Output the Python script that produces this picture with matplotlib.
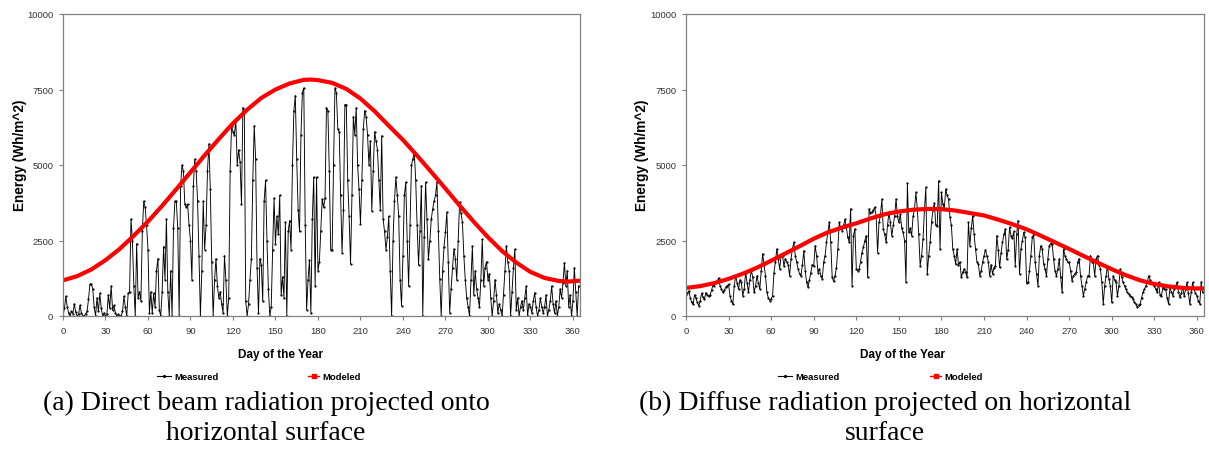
import numpy as np
import matplotlib
matplotlib.use("Agg")
import matplotlib.pyplot as plt
from matplotlib.lines import Line2D

# Datos (energia diaria, Wh/m^2)
days = np.arange(365)

direct_measured = [
    0, 250, 650, 300, 100, 0, 150, 80, 400, 120,
    0, 50, 350, 100, 0, 0, 80, 150, 550, 1050,
    1050, 900, 300, 0, 600, 150, 750, 250, 0, 100,
    0, 50, 700, 250, 1000, 200, 350, 100, 0, 50,
    0, 0, 150, 650, 300, 0, 750, 800, 3200, 2500,
    1000, 0, 2400, 600, 800, 500, 2800, 3800, 3600, 3000,
    2200, 100, 800, 100, 750, 300, 1500, 1900, 200, 0,
    800, 2300, 1200, 3200, 800, 0, 1500, 0, 2900, 3800,
    3800, 2900, 0, 4300, 5000, 4800, 3700, 3600, 3700, 3000,
    2500, 1200, 4300, 5200, 4800, 3800, 2000, 0, 1500, 3800,
    2200, 3000, 4800, 5700, 4200, 1800, 0, 1200, 1900, 1000,
    600, 800, 400, 100, 2000, 1200, 0, 600, 4800, 6300,
    6100, 6000, 6500, 5000, 5500, 5100, 3700, 6900, 6800, 500,
    0, 400, 1200, 1900, 4500, 6300, 5200, 1600, 100, 1900,
    1700, 500, 3800, 4500, 2500, 900, 0, 300, 2200, 3900,
    2400, 3300, 2700, 4000, 700, 1300, 600, 3100, 0, 2800,
    3160, 2200, 5000, 6800, 7300, 5200, 3500, 2800, 6000, 7400,
    7550, 3000, 200, 1200, 1850, 100, 3200, 4600, 1000, 4600,
    1500, 1800, 2800, 3870, 3600, 3900, 6900, 6800, 4800, 2200,
    2200, 5000, 7550, 7400, 6200, 6100, 4000, 2100, 3500, 7000,
    7000, 4500, 3300, 1720, 4000, 6600, 6000, 6900, 5000, 4200,
    3050, 4500, 6200, 6800, 6600, 6000, 5000, 5800, 3490, 4800,
    6100, 5800, 5500, 4500, 3500, 5970, 3200, 2800, 2200, 2600,
    3300, 1500, 0, 2500, 3800, 4600, 4000, 3300, 1200, 340,
    2000, 4000, 4430, 2500, 1000, 3000, 4990, 5200, 5430, 4500,
    3000, 1700, 2800, 4320, 0, 2600, 4430, 3200, 1880, 2500,
    3200, 3550, 3800, 4000, 4430, 2800, 1210, 0, 1500, 2300,
    2780, 3440, 1800, 110, 900, 1600, 2220, 1900, 1200, 2500,
    3770, 3400, 3100, 2000, 1200, 600, 300, 0, 1200, 2320,
    700, 1500, 900, 600, 300, 1200, 2540, 1000, 1600, 1800,
    1200, 1400, 600, 0, 500, 1200, 700, 100, 400, 200,
    0, 700, 1500, 2320, 1800, 1500, 0, 800, 1600, 2210,
    200, 600, 0, 300, 500, 200, 600, 990, 0, 400,
    300, 100, 500, 770, 300, 0, 200, 600, 300, 100,
    300, 700, 0, 200, 500, 990, 400, 100, 500, 0,
    300, 900, 600, 1100, 1770, 1000, 1500, 300, 700, 0,
    500, 1600, 800, 0, 1000,
]

diffuse_measured = [
    680, 750, 830, 600, 450, 390, 700, 600, 450, 340,
    500, 750, 620, 550, 770, 700, 650, 700, 850, 1040,
    1000, 1120, 1150, 1260, 1000, 880, 780, 850, 950, 1000,
    1050, 670, 500, 390, 1000, 1330, 1100, 890, 1200, 1110,
    670, 900, 1440, 1100, 780, 1200, 1500, 1300, 780, 1000,
    1330, 1100, 890, 1500, 2060, 1700, 1330, 780, 600, 510,
    560, 670, 1440, 1800, 2220, 1900, 1560, 2000, 2000, 1650,
    1900, 1780, 1700, 1330, 1900, 2220, 2440, 2000, 1780, 1560,
    1400, 1330, 1700, 2160, 1500, 1110, 950, 1200, 1440, 1700,
    1650, 2330, 2000, 1440, 1560, 1330, 1230, 1780, 2000, 2440,
    2800, 3100, 2440, 1280, 1150, 1330, 1600, 2220, 3100, 2900,
    2830, 3000, 3200, 2940, 2600, 2440, 3550, 1000, 2660, 2880,
    1560, 1500, 1560, 1800, 2100, 2270, 2500, 2660, 1280, 3550,
    3400, 3440, 3500, 3600, 3300, 2100, 3100, 3320, 3870, 2880,
    2700, 2440, 3000, 3440, 3100, 2660, 3000, 3320, 3870, 3300,
    3100, 3370, 2900, 2770, 2500, 1120, 4400, 2770, 2900, 2660,
    3300, 3540, 4090, 3540, 2700, 1660, 2000, 2550, 3500, 4260,
    1390, 2000, 2440, 3100, 3500, 3740, 3000, 2990, 4480, 2220,
    4090, 3700, 3540, 4200, 4000, 3870, 3270, 3000, 2220, 2000,
    1720, 2220, 1700, 1780, 1280, 1450, 1560, 1450, 1280, 3100,
    2330, 2900, 3320, 2700, 2220, 1800, 1720, 1330, 1500, 1780,
    2000, 2200, 2000, 1800, 1330, 1700, 1390, 1600, 1660, 2660,
    2200, 1610, 2100, 2440, 2700, 2880, 1880, 2200, 2940, 2660,
    2570, 2800, 1660, 2700, 3160, 1390, 2220, 2500, 2770, 2600,
    1080, 1110, 1500, 2000, 2600, 2710, 1780, 1400, 1000, 2000,
    2330, 2220, 1720, 1550, 1330, 1900, 2330, 2400, 2380, 1890,
    1500, 1330, 1560, 1890, 1300, 780, 2220, 2000, 1890, 1780,
    1780, 1500, 1170, 1330, 1400, 1450, 1780, 1900, 1330, 1000,
    670, 900, 1110, 1330, 1330, 2000, 1800, 1780, 1330, 1900,
    2000, 1700, 1560, 1120, 400, 1000, 1330, 1660, 1220, 1000,
    450, 1330, 1200, 1110, 670, 1000, 1560, 1300, 1110, 1000,
    890, 780, 720, 670, 620, 560, 450, 400, 290, 350,
    400, 600, 780, 890, 1000, 1110, 1330, 1200, 1110, 1050,
    1000, 890, 780, 1110, 700, 670, 950, 900, 890, 600,
    400, 950, 800, 670, 890, 1000, 1110, 800, 620, 750,
    950, 670, 880, 1110, 750, 400, 800, 1110, 890, 750,
    670, 500, 400, 1110, 780,
]

model_days = [0, 10, 20, 30, 40, 50, 60, 70, 80, 90, 100, 110, 120, 130, 140,
              150, 160, 170, 175, 180, 190, 200, 210, 220, 230, 240, 250, 260,
              270, 280, 290, 300, 310, 320, 330, 340, 350, 357, 365]
direct_modeled = [1180, 1320, 1540, 1850, 2220, 2660, 3130, 3650, 4200, 4760,
                  5320, 5860, 6380, 6830, 7220, 7500, 7700, 7820, 7830, 7810,
                  7720, 7520, 7200, 6780, 6300, 5830, 5310, 4770, 4220, 3660,
                  3120, 2610, 2150, 1770, 1460, 1260, 1160, 1140, 1170]
diffuse_modeled = [930, 990, 1090, 1230, 1400, 1600, 1830, 2070, 2310, 2560,
                   2770, 2930, 3070, 3230, 3370, 3460, 3520, 3545, 3545, 3540,
                   3490, 3410, 3330, 3190, 3040, 2870, 2660, 2440, 2220, 1990,
                   1770, 1550, 1350, 1180, 1060, 980, 930, 915, 910]

x_ticks = [0, 30, 60, 90, 120, 150, 180, 210, 240, 270, 300, 330, 360]
y_ticks = [0, 2500, 5000, 7500, 10000]

captions = ["(a) Direct beam radiation projected onto\nhorizontal surface",
            "(b) Diffuse radiation projected on horizontal\nsurface"]

plt.rcParams["font.family"] = ["Liberation Sans", "DejaVu Sans"]

W, H = 1209, 452
fig = plt.figure(figsize=(W / 100, H / 100), dpi=100)

paneles = [
    (direct_measured, direct_modeled, 63, 580, 20, 280, 162, 313, 266),
    (diffuse_measured, diffuse_modeled, 686, 1204, 642, 902, 783, 935, 885),
]

for i, (meas, mod, x0, x1, ylab_x, xlab_x, leg1, leg2, cap_x) in enumerate(paneles):
    ax = fig.add_axes([x0 / W, 1 - 317 / H, (x1 - x0) / W, (317 - 15) / H])
    ax.plot(days, meas, color="black", lw=0.65, marker=".", ms=1.2)
    ax.plot(model_days, mod, color="#ff0000", lw=3.0, solid_joinstyle="round")
    ax.set_xlim(0, 365)
    ax.set_ylim(0, 10000)
    ax.set_xticks(x_ticks)
    ax.set_yticks(y_ticks)
    ax.tick_params(direction="out", length=3, width=0.8, color="#808080",
                   labelsize=6.8, labelcolor="#333333", pad=4)
    for s in ax.spines.values():
        s.set_color("#808080")
        s.set_linewidth(0.9)

    fig.text(ylab_x / W, 1 - 155 / H, "Energy (Wh/m^2)", rotation=90,
             ha="center", va="center", fontsize=9.8, fontweight="bold")
    fig.text(xlab_x / W, 1 - 355 / H, "Day of the Year",
             ha="center", va="center", fontsize=8.5, fontweight="bold")

    # leyenda manual
    h1 = Line2D([], [], color="black", lw=0.8, marker=".", ms=2.5)
    h2 = Line2D([], [], color="#ff0000", lw=1.0, marker="s", ms=2.2)
    fig.legend([h1], ["Measured"], loc="center left",
               bbox_to_anchor=(leg1 / W - 0.004, 1 - 378 / H), frameon=False,
               prop={"size": 6.8, "weight": "bold"}, handlelength=1.5,
               handletextpad=0.3, borderpad=0, borderaxespad=0)
    fig.legend([h2], ["Modeled"], loc="center left",
               bbox_to_anchor=(leg2 / W - 0.004, 1 - 378 / H), frameon=False,
               prop={"size": 6.8, "weight": "bold"}, handlelength=1.2,
               handletextpad=0.3, borderpad=0, borderaxespad=0)

    fig.text(cap_x / W, 1 - 418 / H, captions[i], ha="center", va="center",
             fontsize=20, family="Liberation Serif", linespacing=1.27)

fig.savefig("out.png", dpi=100)
